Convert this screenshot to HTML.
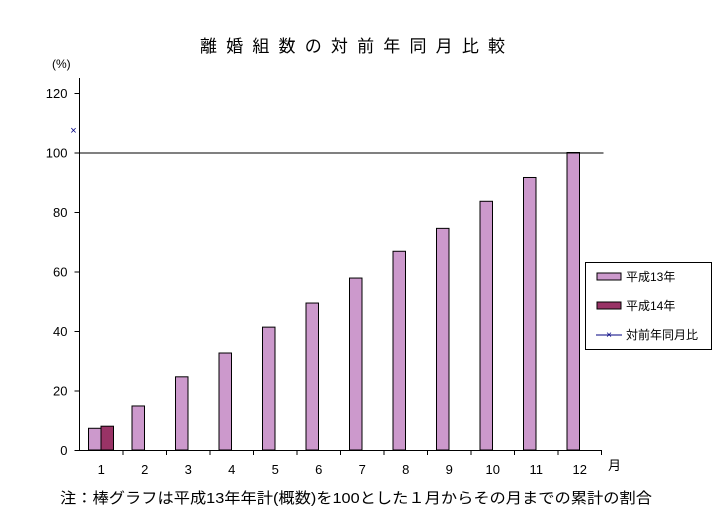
<!DOCTYPE html>
<html><head><meta charset="utf-8"><style>
body{margin:0;background:#fff;width:717px;height:517px;overflow:hidden}
text{font-family:"Liberation Sans","Noto Sans CJK JP",sans-serif}
</style></head><body>
<svg id="c" width="717" height="517" xmlns="http://www.w3.org/2000/svg">
<text x="200" y="52" font-size="17" textLength="305" lengthAdjust="spacing">離婚組数の対前年同月比較</text>
<text x="52" y="68" font-size="12">(%)</text>
<text x="608" y="470" font-size="13">月</text>
<text x="60" y="503" font-size="15" textLength="592" lengthAdjust="spacingAndGlyphs">注：棒グラフは平成13年年計(概数)を100とした１月からその月までの累計の割合</text>
<g id="g"></g>
<g>
<rect x="585.5" y="262.5" width="126" height="87" fill="#fff" stroke="#000"/>
<rect x="597" y="273" width="24" height="7" fill="#cc99cc" stroke="#000"/>
<text x="626" y="281" font-size="12">平成13年</text>
<rect x="597" y="302" width="24" height="7" fill="#993366" stroke="#000"/>
<text x="626" y="310" font-size="12">平成14年</text>
<line x1="596" y1="335" x2="622" y2="335" stroke="#000080"/>
<text x="609" y="338" font-size="10" fill="#000080" text-anchor="middle">×</text>
<text x="626" y="339" font-size="12">対前年同月比</text>
</g>
</svg>
<script>
const months=["1","2","3","4","5","6","7","8","9","10","11","12"];
const h13=[7.3,14.8,24.6,32.6,41.3,49.4,57.8,66.8,74.5,83.6,91.6,100];
const h14=[8.0,null,null,null,null,null,null,null,null,null,null,null];
const ratio=[107.5,null,null,null,null,null,null,null,null,null,null,null];
const yTicks=[0,20,40,60,80,100,120];
const refLine=100;
const X0=79.5,CW=43.5,Y0=450,YT=93,YMAX=120;
const y=v=>Y0-(Y0-YT)*v/YMAX;
const x=i=>X0+i*CW;
const g=document.getElementById('g');
const NS="http://www.w3.org/2000/svg";
function mk(t,a){const e=document.createElementNS(NS,t);for(const k in a)e.setAttribute(k,a[k]);g.appendChild(e);return e;}
yTicks.forEach(v=>{
 const l=mk('line',{x1:X0-5,x2:X0,y1:y(v)+.5,y2:y(v)+.5,stroke:'#000'});
 
 
 const t=mk('text',{x:X0-12,y:y(v)+5,'font-size':13,'text-anchor':'end'});t.textContent=v;
 
 
});
months.forEach((m,i)=>{
 const l=mk('line',{x1:x(i+1),x2:x(i+1),y1:Y0,y2:Y0+5,stroke:'#000'});
 
 
 const t=mk('text',{x:x(i)+CW/2,y:Y0+24,'font-size':13,'text-anchor':'middle'});t.textContent=m;
 
 
 if(h13[i]!=null){const b=mk('rect',{x:x(i)+9,y:y(h13[i]),width:12.5,height:Y0-y(h13[i]),fill:'#cc99cc',stroke:'#000'});
  
  }
 if(h14[i]!=null){const b=mk('rect',{x:x(i)+21.5,y:y(h14[i]),width:12.5,height:Y0-y(h14[i]),fill:'#993366',stroke:'#000'});
  
  }
 if(ratio[i]!=null){const p=mk('text',{x:x(i)-6,y:y(ratio[i])+4,'font-size':11,fill:'#000080','text-anchor':'middle'});p.textContent='×';
  
  }
});
const r=mk('line',{x1:X0,x2:x(12)+2,y1:y(refLine)+.5,y2:y(refLine)+.5,stroke:'#000'});


const ya=mk('line',{x1:X0,x2:X0,y1:78,y2:Y0,stroke:'#000'});


const xa=mk('line',{x1:X0,x2:x(12),y1:Y0+.5,y2:Y0+.5,stroke:'#000'});


</script>
</body></html>
